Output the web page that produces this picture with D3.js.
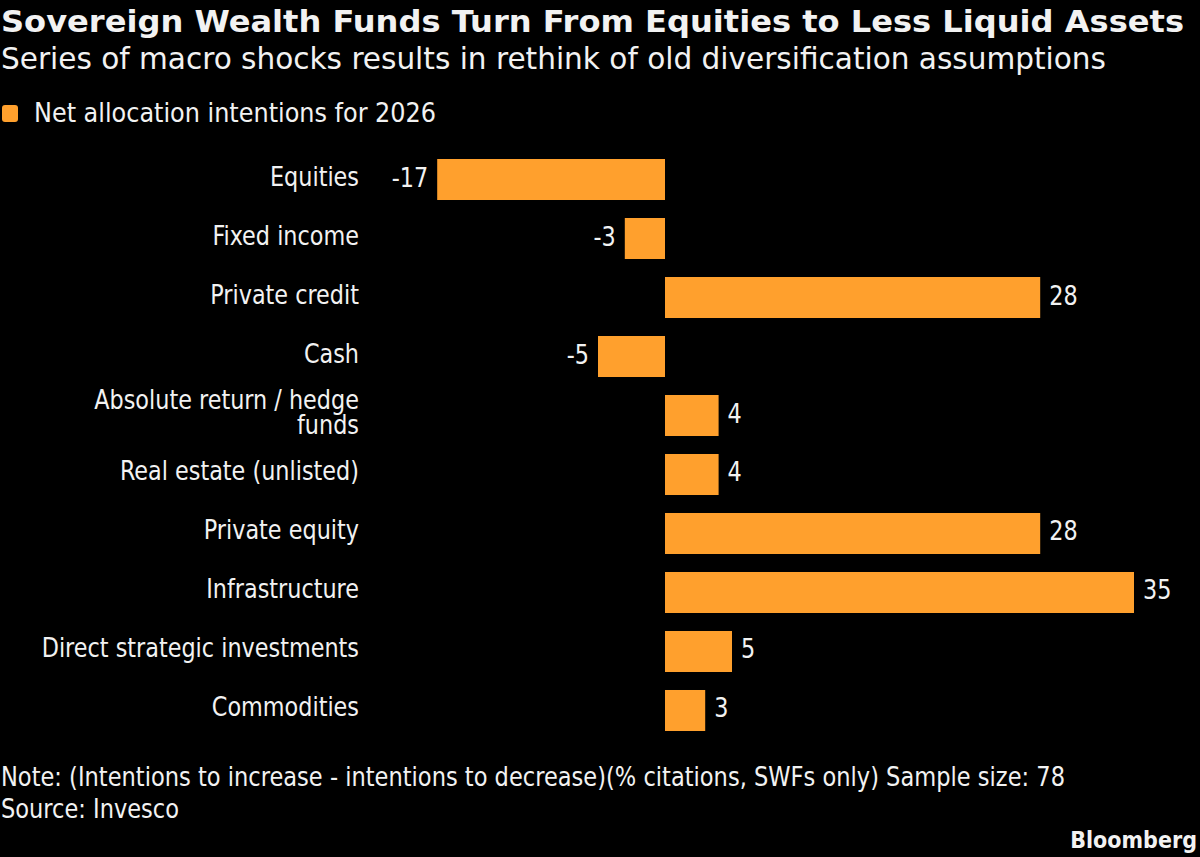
<!DOCTYPE html>
<html>
<head>
<meta charset="utf-8">
<script src="https://cdn.jsdelivr.net/npm/d3@7"></script>
<style>
  html, body { margin: 0; padding: 0; background: #000; }
  svg { display: block; }
  text { font-family: "DejaVu Sans Condensed", "DejaVu Sans", sans-serif; fill: #f2f2f2; }
</style>
</head>
<body>
<svg id="chart"></svg>
<script>
const categories = [
  ["Equities"],
  ["Fixed income"],
  ["Private credit"],
  ["Cash"],
  ["Absolute return / hedge", "funds"],
  ["Real estate (unlisted)"],
  ["Private equity"],
  ["Infrastructure"],
  ["Direct strategic investments"],
  ["Commodities"]
];
const values = [-17, -3, 28, -5, 4, 4, 28, 35, 5, 3];
const seriesName = "Net allocation intentions for 2026";
const title = "Sovereign Wealth Funds Turn From Equities to Less Liquid Assets";
const subtitle = "Series of macro shocks results in rethink of old diversification assumptions";
const note = "Note: (Intentions to increase - intentions to decrease)(% citations, SWFs only) Sample size: 78";
const source = "Source: Invesco";

const width = 1200, height = 857;
const orange = "#ffa02d";
const squeeze = 0.92; // reference face is narrower than DejaVu Condensed

const svg = d3.select("#chart").attr("width", width).attr("height", height);
svg.append("rect").attr("width", width).attr("height", height).attr("fill", "#000");

const x = d3.scaleLinear().domain([0, 35]).range([665, 1134]);
const y = d3.scaleBand().domain(d3.range(categories.length)).range([159, 731]).paddingInner(0.305);

// header
svg.append("text").attr("x", 1).attr("y", 32)
  .style("font-family", "'DejaVu Sans', sans-serif").style("font-size", "31px").style("font-weight", "bold")
  .attr("textLength", 1183).attr("lengthAdjust", "spacingAndGlyphs").text(title);
svg.append("text").attr("x", 1).attr("y", 69).style("font-size", "31px")
  .attr("textLength", 1105).attr("lengthAdjust", "spacingAndGlyphs").text(subtitle);

// legend
svg.append("rect").attr("x", 2).attr("y", 105).attr("width", 16).attr("height", 17)
  .attr("rx", 3).attr("fill", orange);
svg.append("text").attr("x", 34).attr("y", 122).style("font-size", "27px")
  .attr("textLength", 402).attr("lengthAdjust", "spacingAndGlyphs").text(seriesName);

// bars
svg.append("g").selectAll("rect").data(values).join("rect")
  .attr("x", d => Math.min(x(d), x(0)))
  .attr("y", (d, i) => y(i))
  .attr("width", d => Math.abs(x(d) - x(0)))
  .attr("height", y.bandwidth())
  .attr("fill", orange);

// value labels
svg.append("g").selectAll("text").data(values).join("text")
  .attr("transform", (d, i) => {
    const lx = d < 0 ? x(d) - 9 : x(d) + 9;
    return `translate(${lx},${y(i) + y.bandwidth() / 2 + 7}) scale(${squeeze},1)`;
  })
  .attr("text-anchor", d => d < 0 ? "end" : "start")
  .style("font-size", "27px")
  .text(d => d);

// category labels, long ones wrap on two lines
svg.append("g").selectAll("g").data(categories).join("g")
  .each(function (lines, i) {
    const top = y(i) + y.bandwidth() / 2 + 6 - (lines.length - 1) * 12.5;
    d3.select(this).selectAll("text").data(lines).join("text")
      .attr("text-anchor", "end")
      .attr("transform", (d, j) => `translate(359,${top + j * 25}) scale(${squeeze},1)`)
      .style("font-size", "27px")
      .text(d => d);
  });

// footer
svg.append("text").attr("x", 1).attr("y", 786).style("font-size", "27px")
  .attr("textLength", 1064).attr("lengthAdjust", "spacingAndGlyphs").text(note);
svg.append("text").attr("x", 1).attr("y", 818).style("font-size", "27px")
  .attr("textLength", 178).attr("lengthAdjust", "spacingAndGlyphs").text(source);
svg.append("text").attr("x", 1197).attr("y", 848).attr("text-anchor", "end")
  .style("font-size", "23px").style("font-weight", "bold").text("Bloomberg");
</script>
</body>
</html>
